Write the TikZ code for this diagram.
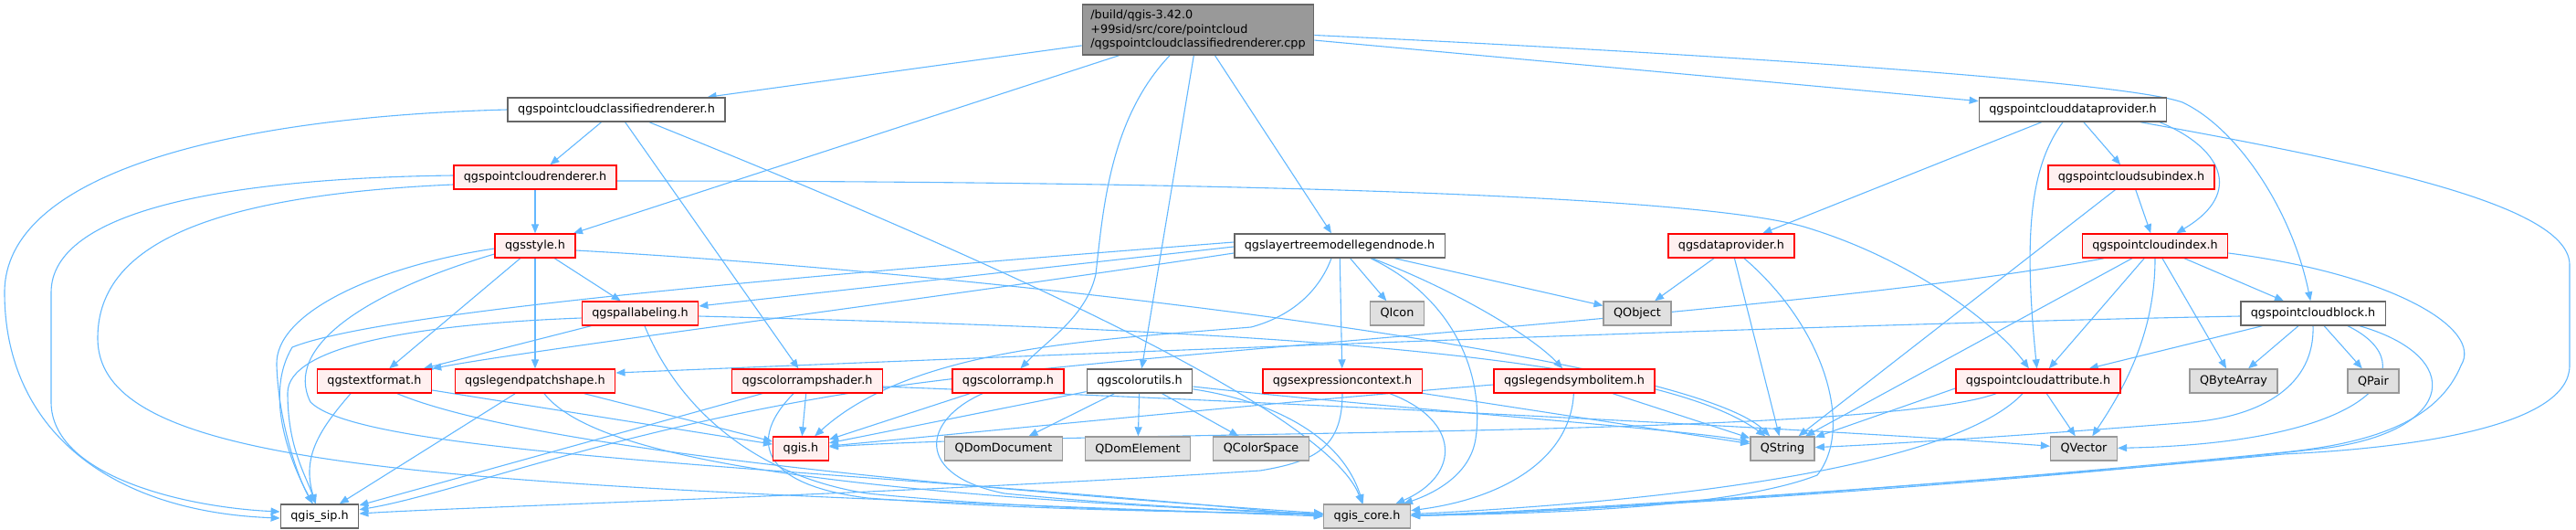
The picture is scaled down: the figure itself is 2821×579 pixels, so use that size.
\documentclass[tikz,border=0pt]{standalone}
\usepackage{fontspec}
\newfontfamily\dvs{DejaVu Sans}
\usetikzlibrary{arrows.meta}
\definecolor{edgecol}{HTML}{63B8FF}
\definecolor{mainfill}{HTML}{999999}
\definecolor{maindraw}{HTML}{666666}
\definecolor{redfill}{HTML}{FFF0F0}
\definecolor{reddraw}{HTML}{FF0000}
\definecolor{graydraw}{HTML}{666666}
\definecolor{qtfill}{HTML}{E0E0E0}
\definecolor{qtdraw}{HTML}{999999}
\pgfdeclarelayer{bg}
\pgfsetlayers{bg,main}
\tikzset{
  box/.style={draw, rectangle, line width=1.4pt, minimum height=26pt, inner xsep=11pt, inner ysep=0pt,
    font={\dvs\fontsize{12.8pt}{15.5pt}\selectfont}, text=black},
  mainbox/.style={box, fill=mainfill, draw=maindraw, align=left, minimum height=55pt, inner xsep=9pt},
  redbox/.style={box, fill=redfill, draw=reddraw},
  whitebox/.style={box, fill=white, draw=graydraw},
  qtbox/.style={box, fill=qtfill, draw=qtdraw},
  edge/.style={draw=edgecol, line width=1.1pt, -{Triangle[length=10pt,width=8pt]}},
}
\begin{document}
\begin{tikzpicture}[x=1pt,y=-1pt]
\useasboundingbox (0,0) rectangle (2821,579);
% nodes
\node[mainbox] (M) at (1312,32.5) {/build/qgis-3.42.0\\+99sid/src/core/pointcloud\\/qgspointcloudclassifiedrenderer.cpp};
\node[whitebox] (C) at (675,120) {qgspointcloudclassifiedrenderer.h};
\node[whitebox] (DP) at (2270,120) {qgspointclouddataprovider.h};
\node[redbox] (R) at (586,194) {qgspointcloudrenderer.h};
\node[redbox] (SI) at (2334,194) {qgspointcloudsubindex.h};
\node[redbox] (S) at (586,269) {qgsstyle.h};
\node[whitebox] (L) at (1467,269) {qgslayertreemodellegendnode.h};
\node[redbox] (QDP) at (1896,269) {qgsdataprovider.h};
\node[redbox] (PI) at (2360,269) {qgspointcloudindex.h};
\node[redbox] (PL) at (701,343) {qgspallabeling.h};
\node[qtbox] (QIcon) at (1530,343) {QIcon};
\node[qtbox] (QObject) at (1793,343) {QObject};
\node[whitebox] (PB) at (2533,343) {qgspointcloudblock.h};
\node[redbox] (TF) at (410,417) {qgstextformat.h};
\node[redbox] (LPS) at (586,417) {qgslegendpatchshape.h};
\node[redbox] (CRS) at (884,417) {qgscolorrampshader.h};
\node[redbox] (CR) at (1104,417) {qgscolorramp.h};
\node[whitebox] (CU) at (1248,417) {qgscolorutils.h};
\node[redbox] (EC) at (1470,417) {qgsexpressioncontext.h};
\node[redbox] (LSI) at (1724,417) {qgslegendsymbolitem.h};
\node[redbox] (PA) at (2232,417) {qgspointcloudattribute.h};
\node[qtbox] (QBA) at (2446,417) {QByteArray};
\node[qtbox] (QPair) at (2599,417) {QPair};
\node[redbox] (qgis) at (877,491) {qgis.h};
\node[qtbox] (QDD) at (1099,491) {QDomDocument};
\node[qtbox] (QDE) at (1246,491) {QDomElement};
\node[qtbox] (QCS) at (1381,491) {QColorSpace};
\node[qtbox] (QString) at (1952,491) {QString};
\node[qtbox] (QVector) at (2282,491) {QVector};
\node[whitebox] (sip) at (350,565) {qgis\_sip.h};
\node[qtbox] (core) at (1497,565) {qgis\_core.h};
% edges
\begin{pgfonlayer}{bg}
% main
\draw[edge] (M) -- (C);
\draw[edge] (M) -- (S);
\draw[edge] (M) -- (L);
\draw[edge] ([xshift=-31pt]M.south) .. controls (1215,130) and (1208,230) .. (1200,300) .. controls (1190,345) and (1150,370) .. (CR);
\draw[edge] (M) -- (CU);
\draw[edge] (M) -- (DP);
\draw[edge] ([yshift=-6pt]M.east) .. controls (1900,60) and (2330,90) .. (2390,112) .. controls (2450,140) and (2510,230) .. (PB);
% C
\draw[edge] (C) -- (R);
\draw[edge] (C) -- (CRS);
\draw[edge] (C.west) .. controls (250,128) and (5,190) .. (5,320) .. controls (5,470) and (120,560) .. ([yshift=-2pt]sip.west);
\draw[edge] ([xshift=36pt]C.south) .. controls (1000,250) and (1450,440) .. (core);
% R
\draw[edge] (R) -- (S);
\draw[edge] ([yshift=-4pt]R.east) .. controls (1300,198) and (1850,212) .. (1975,248) .. controls (2100,285) and (2190,360) .. (PA);
\draw[edge] ([yshift=2pt]R.west) .. controls (250,195) and (56,230) .. (56,320) -- (56,440) .. controls (56,520) and (200,555) .. ([yshift=5pt]sip.west);
\draw[edge] ([yshift=-8pt]R.west) .. controls (200,215) and (107,280) .. (107,370) .. controls (107,520) and (500,530) .. (core.west);
% S
\draw[edge] (S) -- (TF);
\draw[edge] (S) -- (LPS);
\draw[edge] (S) -- (PL);
\draw[edge] ([yshift=-5pt]S.east) .. controls (1100,300) and (1850,390) .. (QString);
\draw[edge] ([yshift=-3pt]S.west) .. controls (420,290) and (300,340) .. (303,400) .. controls (305,460) and (325,520) .. (sip);
\draw[edge] ([yshift=-9pt]S.west) .. controls (400,320) and (310,380) .. (340,440) .. controls (400,500) and (900,510) .. (core.west);
% L
\draw[edge] (L) -- (QIcon);
\draw[edge] (L) -- (QObject);
\draw[edge] (L) -- (EC);
\draw[edge] (L) .. controls (1600,320) and (1680,370) .. (LSI);
\draw[edge] ([yshift=-1pt]L.west) -- ([yshift=8pt]PL.east);
\draw[edge] ([yshift=-8pt]L.west) .. controls (1000,330) and (600,380) .. (TF.north east);
\draw[edge] ([yshift=4pt]L.west) .. controls (900,300) and (420,340) .. (320,380) .. controls (290,430) and (315,500) .. (sip);
\draw[edge] ([xshift=34pt]L.south) .. controls (1600,330) and (1625,420) .. (1616,480) .. controls (1610,520) and (1570,540) .. (core);
\draw[edge] ([xshift=-9pt]L.south) .. controls (1440,330) and (1400,350) .. (1370,358) .. controls (1200,372) and (1000,380) .. (qgis);
% PL
\draw[edge] (PL) -- (TF);
\draw[edge] ([yshift=-3pt]PL.east) .. controls (1300,360) and (1800,380) .. (QString);
\draw[edge] ([yshift=-5pt]PL.west) .. controls (450,355) and (315,380) .. (315,430) .. controls (315,490) and (335,520) .. (sip);
\draw[edge] ([xshift=5pt]PL.south) .. controls (740,440) and (820,520) .. (950,540) .. controls (1150,560) and (1350,560) .. (core);
% TF
\draw[edge] (TF) -- (qgis);
\draw[edge] ([xshift=-26pt]TF.south) .. controls (350,470) and (330,500) .. (sip);
\draw[edge] ([xshift=25pt]TF.south) .. controls (600,500) and (1200,545) .. (core);
% LPS
\draw[edge] (LPS) -- (qgis);
\draw[edge] (LPS) -- (sip);
\draw[edge] ([xshift=10pt]LPS.south) .. controls (650,500) and (900,540) .. (core);
% CRS
\draw[edge] (CRS) -- (qgis);
\draw[edge] (CRS) -- (sip);
\draw[edge] ([xshift=-15pt]CRS.south) .. controls (820,480) and (830,530) .. (950,545) .. controls (1150,560) and (1350,560) .. (core);
\draw[edge] ([yshift=-6pt]CRS.east) .. controls (1400,440) and (2000,470) .. (QVector);
% CR
\draw[edge] (CR) -- (qgis);
\draw[edge] ([xshift=-28pt]CR.south) .. controls (1010,460) and (1000,520) .. (1100,540) .. controls (1250,555) and (1400,560) .. (core);
% CU
\draw[edge] (CU) -- (QDD);
\draw[edge] (CU) -- (QDE);
\draw[edge] (CU) -- (QCS);
\draw[edge] (CU) -- (qgis);
\draw[edge] (CU) .. controls (1400,440) and (1470,480) .. (core);
\draw[edge] ([yshift=-6pt]CU.east) .. controls (1500,445) and (1850,470) .. (QString);
% EC
\draw[edge] (EC) -- (QString);
\draw[edge] ([xshift=52pt]EC.south) .. controls (1600,460) and (1600,520) .. (core);
\draw[edge] (EC.south) .. controls (1470,490) and (1440,505) .. (1380,515) .. controls (1000,540) and (500,555) .. (sip);
% LSI
\draw[edge] (LSI) .. controls (1720,500) and (1650,545) .. (core);
\draw[edge] (LSI) -- (QString);
\draw[edge] ([yshift=-4pt]LSI.west) .. controls (1400,440) and (1100,470) .. (qgis);
% QDP
\draw[edge] (QDP) -- (QObject);
\draw[edge] (QDP) -- (QString);
\draw[edge] ([xshift=14pt]QDP.south) .. controls (2000,360) and (2030,470) .. (1990,520) .. controls (1900,555) and (1700,562) .. (core);
% DP
\draw[edge] (DP) -- (QDP);
\draw[edge] (DP) -- (SI);
\draw[edge] ([xshift=95pt]DP.south) .. controls (2430,160) and (2460,210) .. (PI);
\draw[edge] ([xshift=-11pt]DP.south) .. controls (2225,180) and (2215,250) .. (PA);
\draw[edge] ([xshift=74pt]DP.south) .. controls (2600,180) and (2814,225) .. (2814,290) -- (2814,400) .. controls (2814,465) and (2650,490) .. (2500,497) .. controls (2150,530) and (1700,560) .. (core);
% SI
\draw[edge] (SI) -- (PI);
\draw[edge] (SI) -- (QString);
% PI
\draw[edge] (PI) -- (PB);
\draw[edge] (PI) -- (PA);
\draw[edge] (PI) -- (QBA);
\draw[edge] (PI.south) .. controls (2360,360) and (2330,420) .. (QVector);
\draw[edge] (PI) -- (QString);
\draw[edge] ([yshift=-8pt]PI.east) .. controls (2620,300) and (2720,360) .. (2695,400) .. controls (2670,460) and (2600,485) .. (2500,495) .. controls (2150,530) and (1700,562) .. (core);
\draw[edge] ([xshift=-56pt]PI.south) .. controls (2000,340) and (1300,380) .. (1000,420) .. controls (700,460) and (500,540) .. (sip);
% PB
\draw[edge] (PB) -- (PA);
\draw[edge] (PB) -- (QBA);
\draw[edge] (PB) -- (QPair);
\draw[edge] ([xshift=38pt]PB.south) .. controls (2660,400) and (2600,485) .. (QVector);
\draw[edge] ([xshift=51pt]PB.south) .. controls (2700,390) and (2690,470) .. (2550,490) .. controls (2200,530) and (1700,562) .. (core);
\draw[edge] (PB.south) .. controls (2535,420) and (2480,455) .. (2400,462) .. controls (2200,478) and (2050,487) .. (QString);
\draw[edge] ([yshift=-3pt]PB.west) .. controls (2000,355) and (1300,382) .. ([yshift=9pt]LPS.east);
% PA
\draw[edge] ([yshift=-8pt]PA.west) -- (QString);
\draw[edge] (PA) -- (QVector);
\draw[edge] ([xshift=-46pt]PA.south) .. controls (2050,480) and (1200,470) .. (qgis);
\draw[edge] ([xshift=-17pt]PA.south) .. controls (2150,500) and (1900,545) .. (core);
\end{pgfonlayer}
\end{tikzpicture}
\end{document}
